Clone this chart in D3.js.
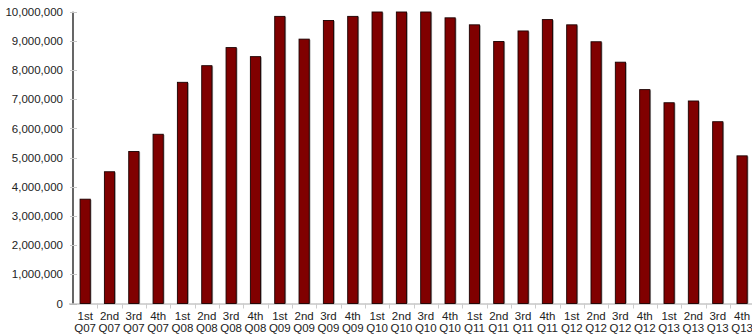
<!DOCTYPE html>
<html>
<head>
<meta charset="utf-8">
<script src="https://cdn.jsdelivr.net/npm/d3@7/dist/d3.min.js"></script>
<style>
  html, body { margin: 0; padding: 0; background: #fff; }
  svg { display: block; font-family: "Liberation Sans", Arial, sans-serif; }
</style>
</head>
<body>
<svg id="chart" width="752" height="336"></svg>
<script>
// Quarterly totals, Q1 2007 – Q4 2013
const quarters = ["1st", "2nd", "3rd", "4th"];
const years = ["Q07", "Q08", "Q09", "Q10", "Q11", "Q12", "Q13"];
const values = [
  3575000, 4515000, 5210000, 5800000,
  7580000, 8150000, 8770000, 8460000,
  9840000, 9060000, 9700000, 9840000,
  9990000, 9990000, 9990000, 9790000,
  9550000, 8980000, 9340000, 9730000,
  9550000, 8970000, 8270000, 7330000,
  6880000, 6940000, 6230000, 5060000
];
const yTicks = [0, 1000000, 2000000, 3000000, 4000000, 5000000,
                6000000, 7000000, 8000000, 9000000, 10000000];

const categories = [];
years.forEach(yr => quarters.forEach(q => categories.push({ q, y: yr, key: q + " " + yr })));
const data = categories.map((c, i) => ({ ...c, value: values[i] }));

const svg = d3.select("#chart");
const plotLeft = 73, plotBottom = 303.5, plotTop = 11.7;
const step = 24.33;

const x = d3.scaleBand()
  .domain(data.map(d => d.key))
  .range([plotLeft, plotLeft + step * data.length])
  .padding(0);

const y = d3.scaleLinear().domain([0, 10000000]).range([plotBottom, plotTop]);

const barW = 10.2;

// y axis
const yAxis = svg.append("g").attr("transform", `translate(${plotLeft},0)`);
yAxis.append("line")
  .attr("x1", 0).attr("x2", 0)
  .attr("y1", y(10000000)).attr("y2", plotBottom)
  .attr("stroke", "#000").attr("stroke-width", 1.2);
yAxis.selectAll(".tick").data(yTicks).join("line")
  .attr("x1", -3).attr("x2", 4)
  .attr("y1", d => Math.round(y(d)) + 0.5).attr("y2", d => Math.round(y(d)) + 0.5)
  .attr("stroke", "#c8c8c8").attr("stroke-width", 1);
yAxis.selectAll(".lbl").data(yTicks).join("text")
  .attr("x", -10)
  .attr("y", d => y(d))
  .attr("dy", "0.36em")
  .attr("text-anchor", "end")
  .attr("font-size", 11.5)
  .attr("fill", "#222")
  .text(d => d3.format(",")(d));

// x axis baseline and category separators
svg.append("line")
  .attr("x1", plotLeft - 4).attr("x2", 752)
  .attr("y1", plotBottom + 0.5).attr("y2", plotBottom + 0.5)
  .attr("stroke", "#aaa").attr("stroke-width", 1);
svg.selectAll(".xtick").data(data.slice(1)).join("line")
  .attr("x1", d => Math.round(x(d.key)) + 0.5)
  .attr("x2", d => Math.round(x(d.key)) + 0.5)
  .attr("y1", plotBottom).attr("y2", plotBottom + 5)
  .attr("stroke", "#ccc");

// bars: light shadow on the right, maroon body with dark outline
const bars = svg.append("g");
bars.selectAll(".shadow").data(data).join("rect")
  .attr("x", d => x(d.key) + x.bandwidth() / 2 - barW / 2 + 1.2)
  .attr("y", d => y(d.value) + 0.6)
  .attr("width", barW)
  .attr("height", d => plotBottom - y(d.value) - 0.6)
  .attr("fill", "#9a9a9a");
bars.selectAll(".bar").data(data).join("rect")
  .attr("x", d => x(d.key) + x.bandwidth() / 2 - barW / 2)
  .attr("y", d => y(d.value))
  .attr("width", barW)
  .attr("height", d => plotBottom - y(d.value))
  .attr("fill", "#800000")
  .attr("stroke", "#1a0000")
  .attr("stroke-width", 0.9);

// two-line category labels
const labels = svg.append("g");
labels.selectAll(".q").data(data).join("text")
  .attr("x", d => x(d.key) + x.bandwidth() / 2)
  .attr("y", 320)
  .attr("text-anchor", "middle")
  .attr("font-size", 11.5)
  .attr("fill", "#222")
  .text(d => d.q);
labels.selectAll(".yr").data(data).join("text")
  .attr("x", d => x(d.key) + x.bandwidth() / 2)
  .attr("y", 332)
  .attr("text-anchor", "middle")
  .attr("font-size", 11.5)
  .attr("fill", "#222")
  .text(d => d.y);
</script>
</body>
</html>
